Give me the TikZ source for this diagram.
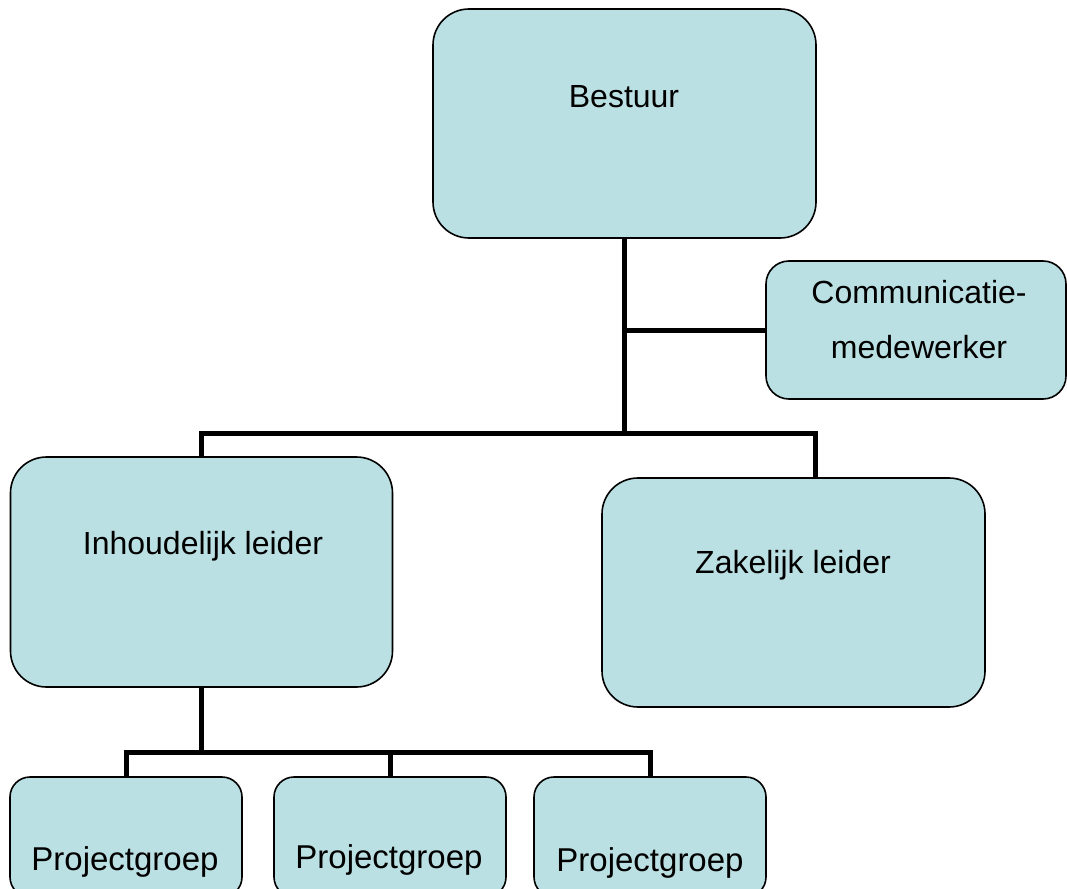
\documentclass[tikz,border=0pt]{standalone}
\usepackage{fontspec}
\setmainfont{Liberation Sans}
\definecolor{boxfill}{RGB}{187,224,227}
\begin{document}
\begin{tikzpicture}[x=1pt,y=-1pt,
  orgbox/.style={draw=black, line width=1.6pt, fill=boxfill, inner sep=0pt, rectangle},
  lbl/.style={font=\fontsize{32}{55}\selectfont, inner sep=0pt, align=center, text=black},
  plbl/.style={lbl, font=\fontsize{33}{40}\selectfont},
  conn/.style={draw=black, line width=5pt}]
\useasboundingbox (0,0) rectangle (1067,888);
\clip (0,0) rectangle (1067,888);
% boxes
\node[orgbox, minimum width=383pt, minimum height=229pt, rounded corners=36pt] (bestuur) at (624.5,123.5) {};
\node[orgbox, minimum width=300pt, minimum height=138pt, rounded corners=23pt] (comm) at (916,330) {};
\node[orgbox, minimum width=382pt, minimum height=230pt, rounded corners=36pt] (inh) at (201.5,572) {};
\node[orgbox, minimum width=383pt, minimum height=229pt, rounded corners=36pt] (zak) at (793.5,592.5) {};
\node[orgbox, minimum width=232pt, minimum height=120pt, rounded corners=20pt] (p1) at (126,837) {};
\node[orgbox, minimum width=232pt, minimum height=120pt, rounded corners=20pt] (p2) at (390,837) {};
\node[orgbox, minimum width=232pt, minimum height=120pt, rounded corners=20pt] (p3) at (650,837) {};
% labels
\node[lbl] (tbestuur) at (624,97) {Bestuur};
\node[lbl] (tcomm) at (919,319.5) {Communicatie-\\medewerker};
\node[lbl] (tinh) at (203,546) {Inhoudelijk leider};
\node[lbl] (tzak) at (793,565) {Zakelijk leider};
\node[plbl] (tp1) at (125,862) {Projectgroep};
\node[plbl] (tp2) at (389,860) {Projectgroep};
\node[plbl] (tp3) at (650,863) {Projectgroep};
% connectors
\coordinate (hub) at (624.5,433);
\coordinate (cj) at (624.5,330);
\coordinate (zt) at (815,478);
\coordinate (lhub) at (202,752);
\draw[conn] (bestuur.south) -- (hub);
\draw[conn] (cj) -- (comm.west);
\draw[conn] (inh.north) |- (zt |- hub) -- (zt);
\draw[conn] (inh.south) -- (inh.south |- lhub);
\draw[conn] (p1.north) |- (p3.north |- lhub) -- (p3.north);
\draw[conn] (p2.north) -- (p2.north |- lhub);
\end{tikzpicture}
\end{document}
